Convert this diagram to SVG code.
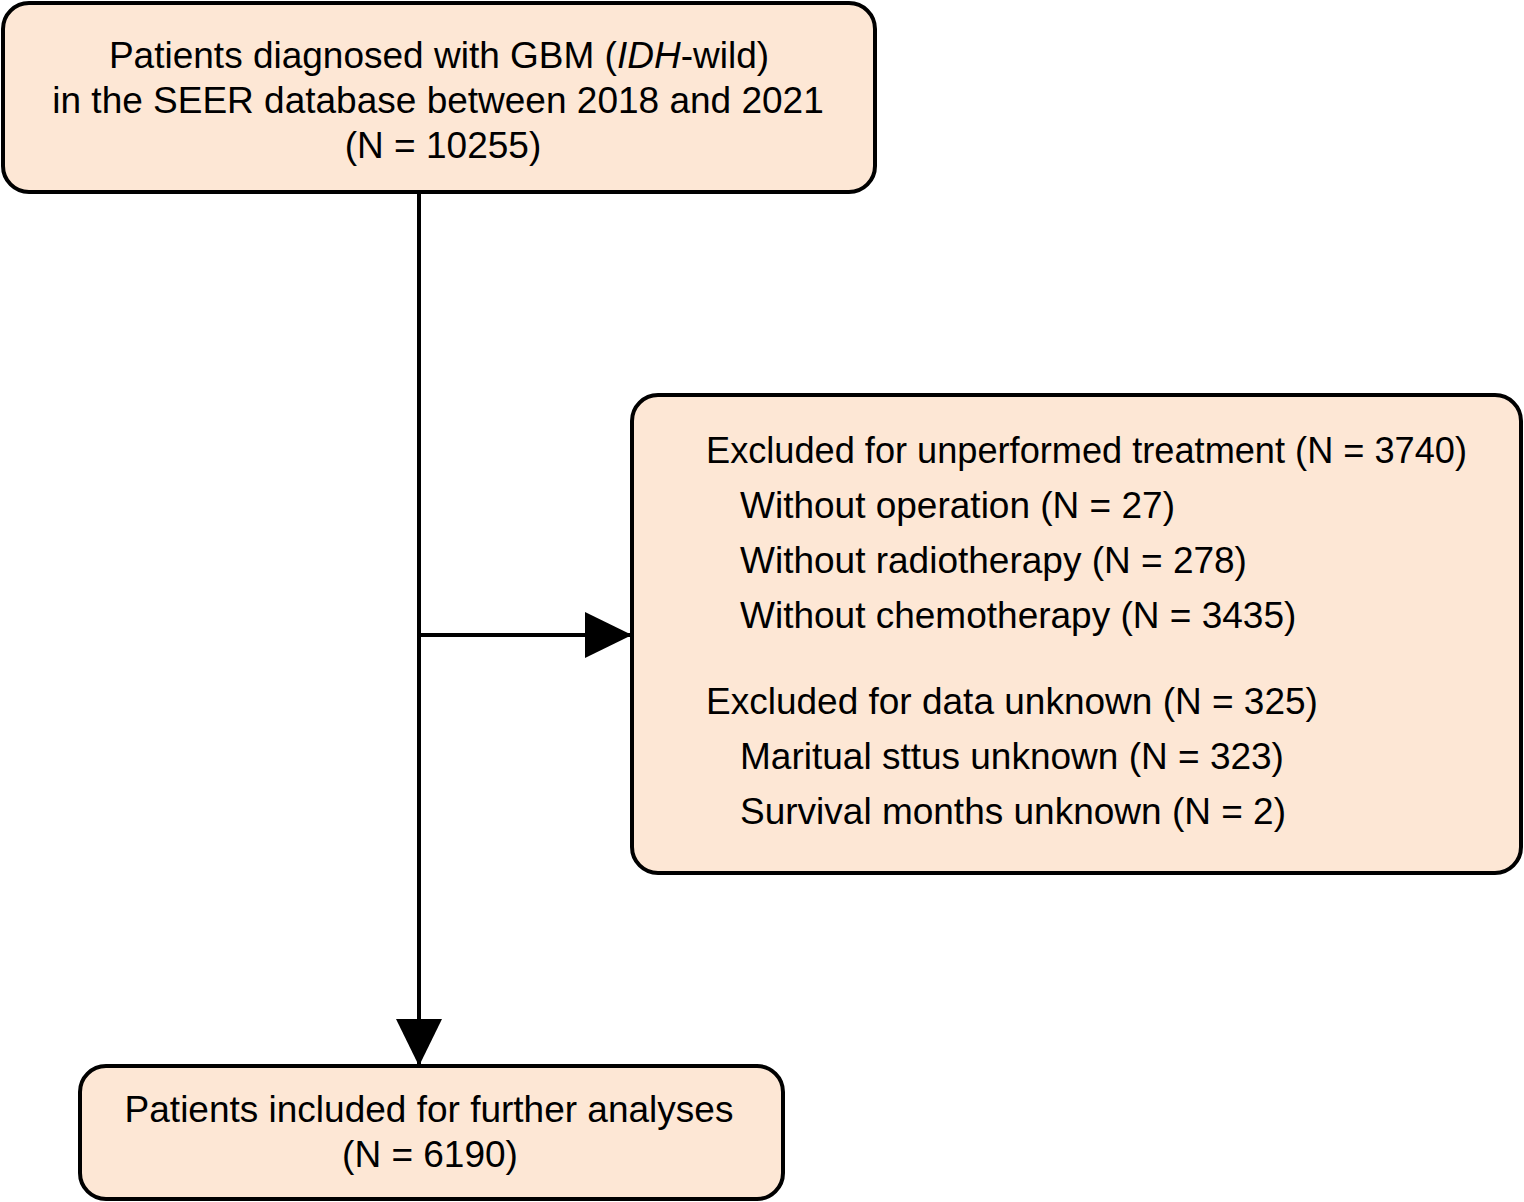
<svg xmlns="http://www.w3.org/2000/svg" width="1524" height="1202" viewBox="0 0 1524 1202">
<style>
.box{fill:#FDE7D5;stroke:#000;stroke-width:4}
text{font-family:"Liberation Sans",Arial,sans-serif;font-size:37px;fill:#000}
.c{text-anchor:middle}
.ln{stroke:#000;stroke-width:4;fill:none}
</style>
<defs>
<marker id="ah" markerUnits="userSpaceOnUse" markerWidth="48" markerHeight="48" refX="47" refY="24" orient="auto">
<path d="M0,1 L47,24 L0,47 Z" fill="#000"/>
</marker>
</defs>
<rect width="1524" height="1202" fill="#fff"/>
<g id="connectors">
<line class="ln" x1="419" y1="192" x2="419" y2="1066" marker-end="url(#ah)"/>
<line class="ln" x1="419" y1="635" x2="632" y2="635" marker-end="url(#ah)"/>
</g>
<g id="node-top">
<rect class="box" x="3" y="3" width="872" height="189" rx="26"/>
<text class="c" x="439" y="68">Patients diagnosed with GBM (<tspan font-style="italic">IDH</tspan>-wild)</text>
<text class="c" x="438" y="113">in the SEER database between 2018 and 2021</text>
<text class="c" x="443" y="158">(N = 10255)</text>
</g>
<g id="node-excluded">
<rect class="box" x="632" y="395" width="889" height="478" rx="26"/>
<text x="706" y="463" textLength="761" lengthAdjust="spacingAndGlyphs">Excluded for unperformed treatment (N = 3740)</text>
<text x="740" y="518">Without operation (N = 27)</text>
<text x="740" y="573">Without radiotherapy (N = 278)</text>
<text x="740" y="628">Without chemotherapy (N = 3435)</text>
<text x="706" y="714">Excluded for data unknown (N = 325)</text>
<text x="740" y="769">Maritual sttus unknown (N = 323)</text>
<text x="740" y="824">Survival months unknown (N = 2)</text>
</g>
<g id="node-included">
<rect class="box" x="80" y="1066" width="703" height="133" rx="26"/>
<text class="c" x="429" y="1122">Patients included for further analyses</text>
<text class="c" x="430" y="1167">(N = 6190)</text>
</g>
</svg>
